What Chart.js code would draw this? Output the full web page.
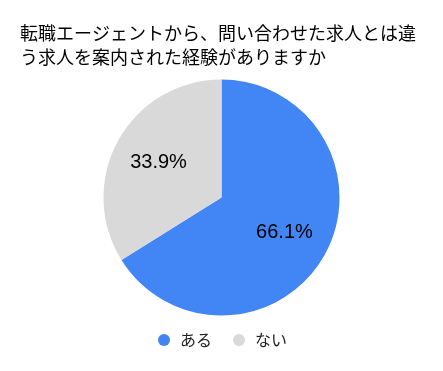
<!DOCTYPE html>
<html>
<head>
<meta charset="utf-8">
<script src="https://cdn.jsdelivr.net/npm/chart.js@4/dist/chart.umd.min.js"></script>
<style>
  html, body { margin: 0; padding: 0; background: #fff; }
  #wrap { width: 443px; height: 371px; }
</style>
</head>
<body>
<div id="wrap"><canvas id="pie"></canvas></div>
<script>
// data
const titleLines = ["転職エージェントから、問い合わせた求人とは違", "う求人を案内された経験がありますか"];
const answers = ["ある", "ない"];
const shares = [66.1, 33.9];
const sliceColors = ["#4285F4", "#D9D9D9"];

// percent text inside each slice
const sliceLabels = {
  id: 'sliceLabels',
  afterDatasetsDraw(chart) {
    const ctx = chart.ctx;
    const meta = chart.getDatasetMeta(0);
    const total = shares.reduce((a, b) => a + b, 0);
    ctx.save();
    ctx.font = '20px "Liberation Sans", Arial, sans-serif';
    ctx.fillStyle = '#000';
    ctx.textAlign = 'center';
    ctx.textBaseline = 'middle';
    meta.data.forEach((arc, i) => {
      const p = arc.getProps(['x', 'y', 'startAngle', 'endAngle', 'outerRadius'], true);
      const mid = (p.startAngle + p.endAngle) / 2;
      const r = p.outerRadius * 0.61;
      const txt = (shares[i] / total * 100).toFixed(1) + '%';
      ctx.fillText(txt, p.x + Math.cos(mid) * r, p.y + Math.sin(mid) * r);
    });
    ctx.restore();
  }
};

// give the legend a bit more room so it sits under the pie like the original
const legendRoom = {
  id: 'legendRoom',
  beforeInit(chart) {
    const fit = chart.legend.fit;
    chart.legend.fit = function () {
      fit.call(this);
      this.height += 13;
    };
  }
};

new Chart(document.getElementById('pie'), {
  type: 'pie',
  data: {
    labels: answers,
    datasets: [{
      data: shares,
      backgroundColor: sliceColors,
      borderWidth: 0,
      radius: 118
    }]
  },
  options: {
    responsive: true,
    maintainAspectRatio: false,
    animation: false,
    layout: { padding: { left: 20, right: 20, top: 0, bottom: 0 } },
    plugins: {
      title: {
        display: true,
        text: titleLines,
        align: 'start',
        color: '#000',
        font: { family: '"Noto Sans CJK JP", sans-serif', size: 18, weight: 'normal', lineHeight: 24 / 18 },
        padding: { top: 21, bottom: 13 }
      },
      legend: {
        position: 'bottom',
        labels: {
          usePointStyle: true,
          pointStyle: 'circle',
          boxWidth: 16,
          boxHeight: 8.5,
          padding: 19,
          color: '#222',
          font: { family: '"Noto Sans CJK JP", sans-serif', size: 16 }
        }
      },
      tooltip: { enabled: false }
    }
  },
  plugins: [sliceLabels, legendRoom]
});
</script>
</body>
</html>
